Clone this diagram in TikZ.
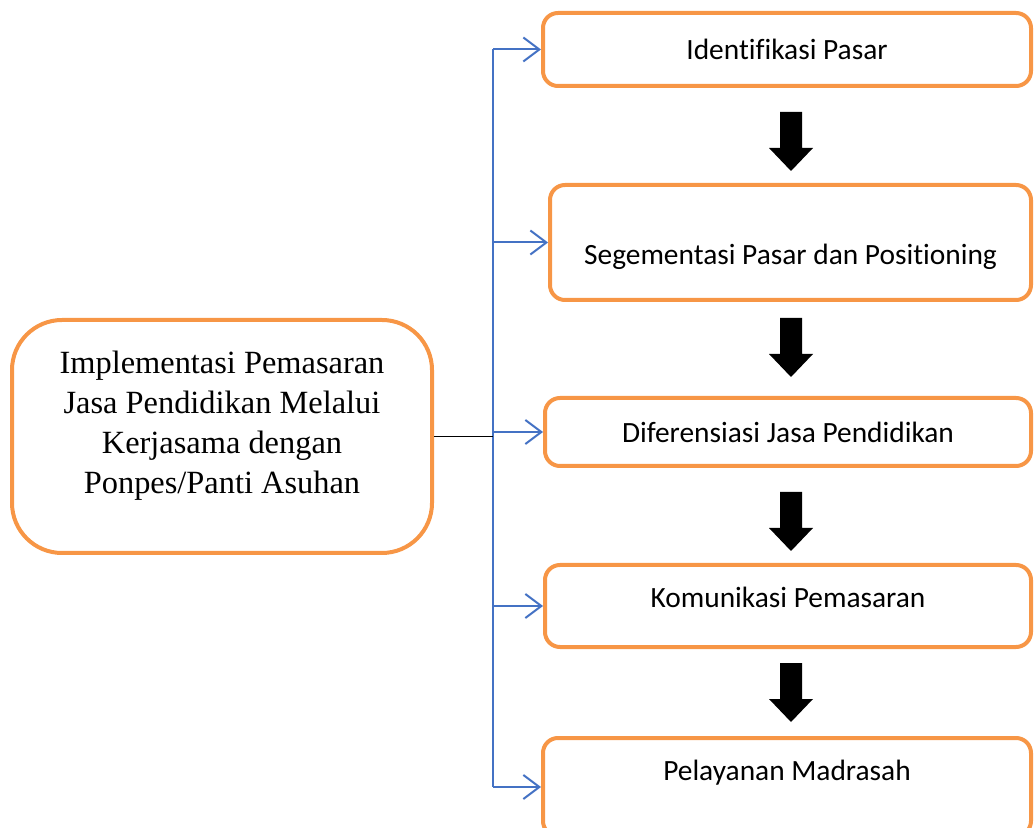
\documentclass[tikz,border=0pt]{standalone}
\usepackage{fontspec}
\setmainfont{Liberation Serif}
\newfontfamily\calibri[Ligatures=NoCommon]{Carlito}
\usetikzlibrary{arrows.meta}
\definecolor{boxorange}{RGB}{247,150,70}
\definecolor{linkblue}{RGB}{68,114,196}
\newcommand{\bigdown}[1]{\fill[black] (780,#1) -- (802,#1) -- (802,#1+36) -- (813,#1+36)
  -- (791,#1+59) -- (769,#1+36) -- (780,#1+36) -- cycle;}

\begin{document}
\begin{tikzpicture}[x=0.5pt,y=-0.5pt,
    stagebox/.style={draw=boxorange, line width=2pt, rounded corners=7.5pt,
      font=\calibri\fontsize{14.7}{17}\selectfont, inner sep=0pt},
    mainbox/.style={draw=boxorange, line width=2pt, rounded corners=25pt, align=center,
      font=\fontsize{16.2}{20}\selectfont},
    feed/.style={draw=linkblue, line width=1pt, -{Straight Barb[length=8pt,width=12pt]}}]
      \useasboundingbox (0,0) rectangle (1034,828);
      % left box
      \node[mainbox, minimum width=210pt, minimum height=116.5pt] (main) at (222,436.5)
      {Implementasi Pemasaran\\Jasa Pendidikan Melalui\\Kerjasama dengan\\Ponpes/Panti Asuhan\rule[-14pt]{0pt}{14pt}};
      % steps
      \node[stagebox, minimum width=244pt, minimum height=36.5pt] (b1) at (787,49.5) {Identifikasi Pasar};
      \node[stagebox, minimum width=240.5pt, minimum height=57.5pt, text height=25pt, text depth=3pt]
      (b2) at (790.5,242.5) {Segementasi Pasar dan Positioning};
      \node[stagebox, minimum width=243pt, minimum height=34pt] (b3) at (788,432) {Diferensiasi Jasa Pendidikan};
      \node[stagebox, minimum width=243pt, minimum height=41pt, text height=10.5pt, text depth=9pt]
      (b4) at (788,606) {Komunikasi Pemasaran};
      \node[stagebox, minimum width=244pt, minimum height=49pt, text height=10.5pt, text depth=17pt]
      (b5) at (787,787) {Pelayanan Madrasah};
      % blue links
      \coordinate (trunk) at (493,0);
      \draw[linkblue, line width=1pt] (b1.west -| trunk) -- (b5.west -| trunk);
      \foreach \b in {b1,b2,b3,b4,b5}
        \draw[feed] (\b.west -| trunk) -- (\b.west);
      \draw[line width=0.8pt] (main.east) -- (main.east -| trunk);
      % block arrows
      \foreach \t in {112,318,492,663}{\bigdown{\t}}
\end{tikzpicture}
\end{document}
